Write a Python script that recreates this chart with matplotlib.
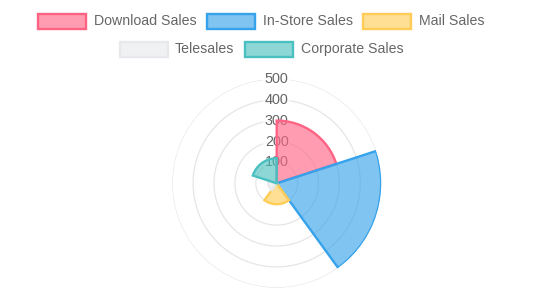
import numpy as np
import matplotlib.pyplot as plt
from matplotlib.patches import Rectangle

plt.rcParams['font.family'] = ['Liberation Sans', 'DejaVu Sans']

labels = ['Download Sales', 'In-Store Sales', 'Mail Sales', 'Telesales', 'Corporate Sales']
values = [300, 500, 100, 40, 120]
colors = [(255, 99, 132), (54, 162, 235), (255, 205, 86), (231, 233, 237), (75, 192, 192)]
ticks = [100, 200, 300, 400, 500]

rgb = [tuple(c / 255 for c in col) for col in colors]
W, H = 554, 304
alpha = 0.63

fig = plt.figure(figsize=(W / 100, H / 100), dpi=100)

# polar area chart
cx, cy, R = 276.7, 183.3, 104.5
ax = fig.add_axes([(cx - R) / W, (H - cy - R) / H, 2 * R / W, 2 * R / H], projection='polar')
ax.set_theta_zero_location('N')
ax.set_theta_direction(-1)
ax.set_ylim(0, max(ticks))
ax.set_yticks(ticks)
ax.set_yticklabels([])
ax.set_xticks([])
ax.grid(False)
th = np.linspace(0, 2 * np.pi, 300)
for t in ticks:
    ax.plot(th, [t] * len(th), color=(0, 0, 0, 0.1), lw=0.9, zorder=1)
ax.spines['polar'].set_visible(False)
ax.set_facecolor('none')

for t in ticks:
    ax.text(0, t, str(t), ha='center', va='center', fontsize=10.4, color='#666666', zorder=2,
            bbox=dict(boxstyle='square,pad=0.1', fc=(1, 1, 1, 0.75), ec='none'))

n = len(values)
width = 2 * np.pi / n
for i, (v, c) in enumerate(zip(values, rgb)):
    ax.bar(i * width, v, width=width, bottom=0, align='edge',
           color=c + (alpha,), edgecolor=c, linewidth=1.7, zorder=3)

# legend
rows = [[(38, 94), (207, 263), (363, 419)], [(120, 175), (245, 301)]]
row_y = [21, 49]
k = 0
for r, row in enumerate(rows):
    for bx, tx in row:
        y = row_y[r]
        c = rgb[k]
        fig.patches.append(Rectangle((bx / W, 1 - (y + 7.5) / H), 48 / W, 15 / H,
                                     transform=fig.transFigure, fc=c + (alpha,), ec=c, lw=1.7))
        fig.text(tx / W, 1 - y / H, labels[k], ha='left', va='center', fontsize=10.2, color='#666666')
        k += 1

fig.savefig('out.png', dpi=100)
